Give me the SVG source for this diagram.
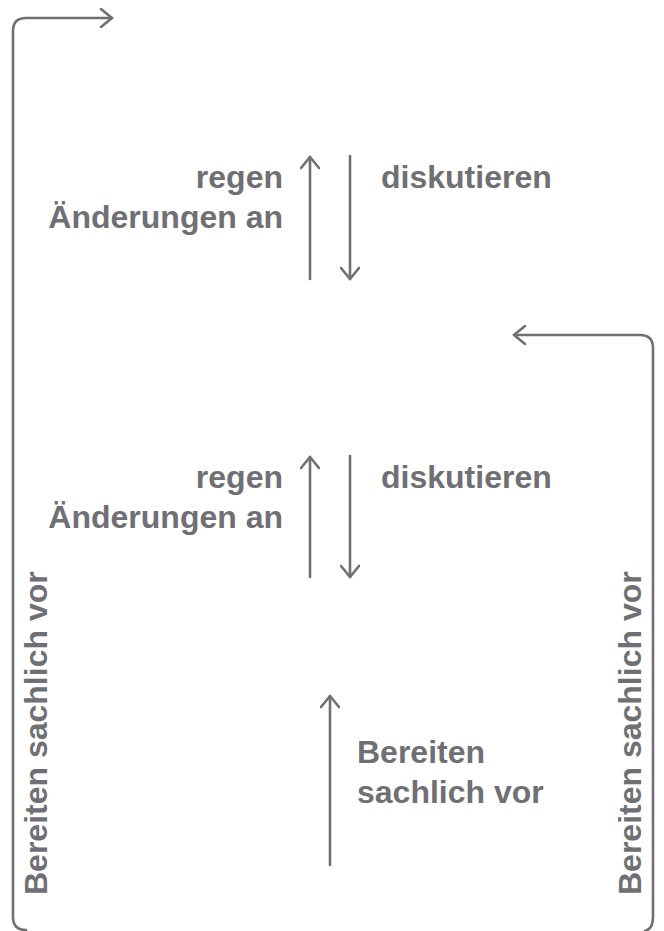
<svg xmlns="http://www.w3.org/2000/svg" width="664" height="931" viewBox="0 0 664 931">
<style>
.c{fill:none;stroke:#707074;stroke-width:2.6;stroke-linecap:round;stroke-linejoin:round}
.t{font-family:"Liberation Sans",Arial,sans-serif;font-weight:bold;font-size:32px;fill:#707074}
.r{text-anchor:end}
</style>
<defs>
<marker id="ah" markerUnits="userSpaceOnUse" viewBox="-14 -10 16 20" markerWidth="16" markerHeight="20" refX="0" refY="0" orient="auto">
<path d="M-11,-9 L0,0 L-11,9" fill="none" stroke="#707074" stroke-width="2.6" stroke-linecap="round" stroke-linejoin="round"/>
</marker>
</defs>
<rect width="664" height="931" fill="#ffffff"/>
<g id="connectors">
<path class="c" d="M26,930 Q13,930 13,917 L13,31 Q13,18 26,18 L112,18" marker-end="url(#ah)"/>
<path class="c" d="M645,931 Q653,929 653,917 L653,348 Q653,335 640,335 L514,335" marker-end="url(#ah)"/>
<path class="c" d="M310,279 L310,157" marker-end="url(#ah)"/>
<path class="c" d="M350,156 L350,279" marker-end="url(#ah)"/>
<path class="c" d="M310,577 L310,457" marker-end="url(#ah)"/>
<path class="c" d="M350,456 L350,577" marker-end="url(#ah)"/>
<path class="c" d="M330,865 L330,696" marker-end="url(#ah)"/>
</g>
<g id="label-top-left">
<text class="t r" x="283" y="188">regen</text>
<text class="t r" x="283" y="228">Änderungen an</text>
</g>
<g id="label-top-right">
<text class="t" x="381" y="188">diskutieren</text>
</g>
<g id="label-mid-left">
<text class="t r" x="283" y="488">regen</text>
<text class="t r" x="283" y="528">Änderungen an</text>
</g>
<g id="label-mid-right">
<text class="t" x="381" y="488">diskutieren</text>
</g>
<g id="label-bottom">
<text class="t" x="357" y="763">Bereiten</text>
<text class="t" x="357" y="803">sachlich vor</text>
</g>
<g id="label-left-vertical">
<text class="t" transform="translate(47,895) rotate(-90)">Bereiten sachlich vor</text>
</g>
<g id="label-right-vertical">
<text class="t" transform="translate(641,895) rotate(-90)">Bereiten sachlich vor</text>
</g>
</svg>
